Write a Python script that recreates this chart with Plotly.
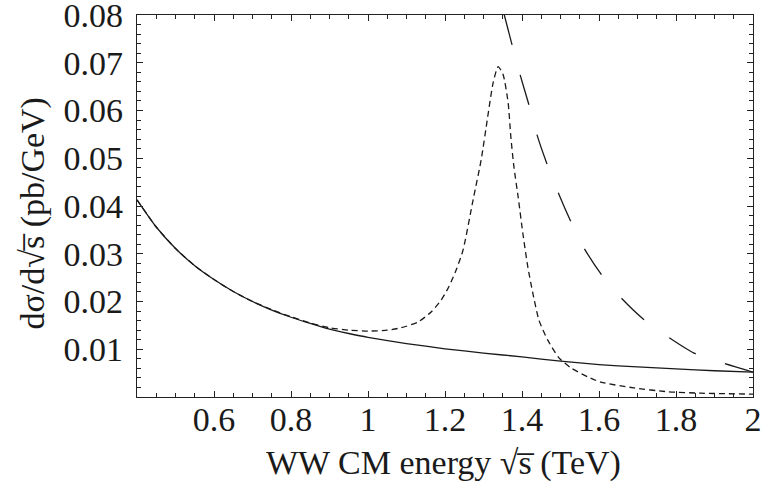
import plotly.graph_objects as go

# Solid curve (background)
x_solid = [0.40, 0.45, 0.50, 0.55, 0.60, 0.65, 0.70, 0.75, 0.80, 0.85, 0.90, 0.95, 1.00, 1.10,
           1.20, 1.30, 1.40, 1.50, 1.60, 1.70, 1.80, 1.90, 2.00]
y_solid = [0.0413, 0.0356, 0.0311, 0.0275, 0.0246, 0.0221, 0.0200, 0.0182, 0.0167, 0.0154, 0.0142,
           0.0133, 0.0125, 0.0112, 0.0101, 0.0092, 0.0084, 0.0075, 0.0068, 0.0063, 0.0059, 0.0055, 0.0052]

# Short-dashed curve (resonance)
x_res = [0.40, 0.45, 0.50, 0.55, 0.60, 0.65, 0.70, 0.75, 0.80, 0.85, 0.90, 0.95, 1.00, 1.05, 1.086,
         1.13, 1.164, 1.19, 1.21, 1.229, 1.247, 1.273, 1.294, 1.311, 1.325, 1.338, 1.351, 1.364,
         1.371, 1.379, 1.390, 1.402, 1.415, 1.428, 1.444, 1.467, 1.496, 1.527, 1.571, 1.605,
         1.691, 1.779, 1.865, 2.00]
y_res = [0.0413, 0.0356, 0.0311, 0.0275, 0.0246, 0.0221, 0.0200, 0.0183, 0.0168, 0.0155, 0.0145, 0.0140,
         0.0138, 0.0140, 0.0145, 0.0157, 0.0178, 0.0203, 0.0231, 0.0266, 0.0308, 0.0413, 0.0497,
         0.0587, 0.0658, 0.0692, 0.0675, 0.0616, 0.0545, 0.0482, 0.0419, 0.0344, 0.0273, 0.0218,
         0.0161, 0.0119, 0.0082, 0.0061, 0.0042, 0.0031, 0.0019, 0.0011, 0.0008, 0.0006]

# Long-dashed curve
x_long = [1.354, 1.374, 1.395, 1.418, 1.439, 1.465, 1.494, 1.527, 1.561, 1.605, 1.657, 1.714,
          1.779, 1.847, 1.922, 2.00]
y_long = [0.0800, 0.0738, 0.0675, 0.0612, 0.0549, 0.0488, 0.0428, 0.0367, 0.0312, 0.0258, 0.0208,
          0.0164, 0.0126, 0.0092, 0.0071, 0.0052]

x_ticks = [0.6, 0.8, 1.0, 1.2, 1.4, 1.6, 1.8, 2.0]
x_ticklabels = ["0.6", "0.8", "1", "1.2", "1.4", "1.6", "1.8", "2"]
y_ticks = [0.01, 0.02, 0.03, 0.04, 0.05, 0.06, 0.07, 0.08]
y_ticklabels = ["0.01", "0.02", "0.03", "0.04", "0.05", "0.06", "0.07", "0.08"]

x_title = "WW CM energy √s\u0305 (TeV)"
y_title = "dσ/d√s\u0305 (pb/GeV)"

FONT = "Times New Roman, Liberation Serif, serif"
LC = "#1a1a1a"
TC = "#1a1a1a"
FS = 34

fig = go.Figure()
fig.add_trace(go.Scatter(x=x_solid, y=y_solid, mode="lines",
                         line=dict(color=LC, width=1.3, shape="spline", smoothing=0.6)))
fig.add_trace(go.Scatter(x=x_res, y=y_res, mode="lines",
                         line=dict(color=LC, width=1.3, dash="6px,4px", shape="spline", smoothing=0.6)))
fig.add_trace(go.Scatter(x=x_long, y=y_long, mode="lines",
                         line=dict(color=LC, width=1.3, dash="31px,31px", shape="spline", smoothing=0.6)))

axis_common = dict(showline=True, linecolor="#222", linewidth=1.3, mirror="ticks",
                   ticks="inside", ticklen=6, tickwidth=1, tickcolor="#222",
                   showgrid=False, zeroline=False, automargin=False, ticklabeloverflow="allow",
                   tickfont=dict(family=FONT, size=FS, color=TC))

fig.update_xaxes(range=[0.4, 2.0000001], tickvals=x_ticks, ticktext=x_ticklabels,
                 minor=dict(dtick=0.05, tick0=0.4, ticks="inside", ticklen=3.5, tickcolor="#222", showgrid=False),
                 ticklabelstandoff=-8,
                 **axis_common)
fig.update_yaxes(range=[-0.0000001, 0.0800001], tickvals=y_ticks, ticktext=y_ticklabels,
                 minor=dict(dtick=0.002, tick0=0, ticks="inside", ticklen=3.5, tickcolor="#222", showgrid=False),
                 ticklabelstandoff=6,
                 **axis_common)

fig.add_annotation(text=x_title, xref="paper", yref="paper", x=0.498, y=-0.173, yanchor="middle",
                   xanchor="center", showarrow=False, font=dict(family=FONT, size=FS, color=TC))
fig.add_annotation(text=y_title, xref="paper", yref="paper", x=-0.169, y=0.48, textangle=-90,
                   xanchor="center", yanchor="middle", showarrow=False,
                   font=dict(family=FONT, size=FS, color=TC))

fig.update_layout(width=764, height=490, margin=dict(l=137, r=11, t=15, b=93),
                  paper_bgcolor="white", plot_bgcolor="white", showlegend=False)

fig.write_html("out.html", config={"displayModeBar": False},
               post_script="document.body.style.margin='0px';document.body.style.padding='0px';")
